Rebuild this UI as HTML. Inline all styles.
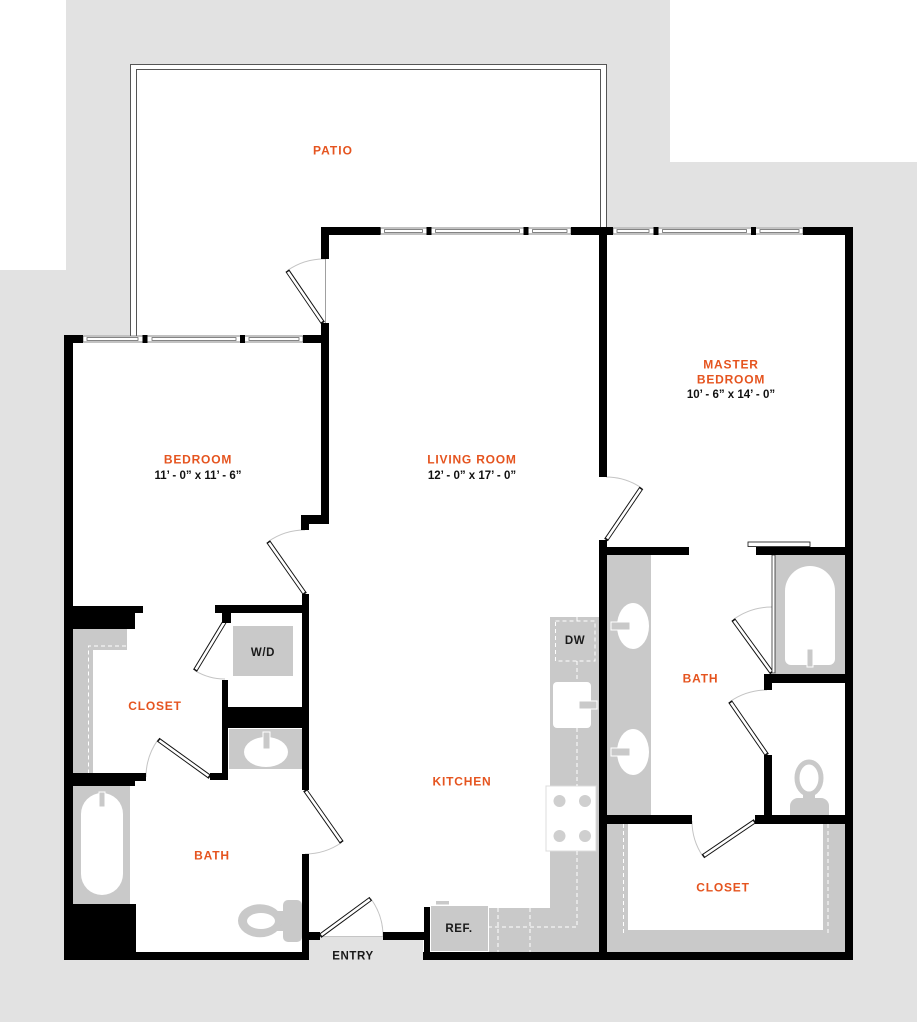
<!DOCTYPE html>
<html><head><meta charset="utf-8"><style>
html,body{margin:0;padding:0;background:#fff;}
svg{display:block;}
.lbl{font-family:"Liberation Sans",sans-serif;font-weight:bold;font-size:12px;fill:#e5541f;letter-spacing:0.8px;text-anchor:middle;}
.dim{font-family:"Liberation Sans",sans-serif;font-weight:bold;font-size:11.5px;fill:#111;text-anchor:middle;}
.blk{font-family:"Liberation Sans",sans-serif;font-weight:bold;font-size:11.5px;fill:#1a1a1a;text-anchor:middle;letter-spacing:0.6px;}
</style></head><body>
<svg width="918" height="1024" viewBox="0 0 918 1024" xmlns="http://www.w3.org/2000/svg">
<!-- background -->
<rect x="0" y="0" width="918" height="1024" fill="#fff"/>
<rect x="0" y="0" width="917" height="1022" fill="#e2e2e2"/>
<rect x="0" y="0" width="66" height="270" fill="#fff"/>
<rect x="670" y="0" width="248" height="162" fill="#fff"/>

<!-- interior white -->
<path d="M64,335 L321,335 L321,227 L853,227 L853,960 L423,960 L423,936 L308,936 L308,960 L64,960 Z" fill="#fff"/>
<!-- patio -->
<path d="M130,64 L606.5,64 L606.5,227 L321,227 L321,335 L130,335 Z" fill="#fff"/>
<g stroke="#555" stroke-width="1" fill="none">
<path d="M130.5,337 V64.5 H606.5 V228"/>
<path d="M136.5,337 V69.5 H600.5 V228"/>
</g>

<!-- fixtures gray -->
<g fill="#c9c9c9">
<rect x="72" y="629" width="55" height="21"/>
<rect x="72" y="629" width="21" height="144"/>
<rect x="232" y="626" width="61" height="50"/>
<rect x="229" y="729" width="74" height="40"/>
<rect x="72" y="786" width="58" height="118"/>
<rect x="283" y="900" width="19" height="42" rx="5"/>
<rect x="270" y="911" width="16" height="20"/>
<ellipse cx="260" cy="920.7" rx="22" ry="16.5"/>
<rect x="550" y="617" width="50" height="335"/>
<rect x="488" y="908" width="112" height="44"/>
<rect x="431" y="906" width="57" height="45"/>
<rect x="436" y="901" width="13" height="3.5"/>
<rect x="607" y="555" width="44" height="260"/>
<rect x="775" y="555" width="70" height="119"/>
<rect x="607" y="824" width="238" height="128"/>
</g>

<!-- white details on fixtures -->
<g fill="#fff">
<ellipse cx="261" cy="921" rx="14" ry="8"/>
<ellipse cx="266" cy="752" rx="22" ry="15"/>
<rect x="81" y="793" width="42" height="102" rx="21"/>
<rect x="553" y="682" width="38" height="46" rx="4"/>
<ellipse cx="633" cy="626" rx="16" ry="23"/>
<ellipse cx="633" cy="752" rx="16" ry="23"/>
<path d="M785,591 A25,25 0 0 1 835,591 V659 A6,6 0 0 1 829,665 H791 A6,6 0 0 1 785,659 Z"/>
<rect x="628" y="824" width="195" height="106"/>
</g>
<line x1="232.5" y1="626" x2="232.5" y2="676" stroke="#fff" stroke-width="1"/>
<line x1="488.5" y1="906" x2="488.5" y2="952" stroke="#fff" stroke-width="1"/>

<!-- faucets -->
<g fill="#c9c9c9" stroke="#fff" stroke-width="1">
<rect x="263" y="732" width="7" height="17"/>
<rect x="99" y="792" width="6" height="15"/>
<rect x="579" y="701" width="18" height="8"/>
<rect x="611" y="622" width="19" height="8"/>
<rect x="611" y="748" width="19" height="8"/>
<rect x="807" y="649" width="6" height="18"/>
</g>

<!-- master toilet -->
<ellipse cx="809" cy="778" rx="12" ry="16" fill="#fff" stroke="#c9c9c9" stroke-width="5"/>
<path d="M790,806 A8,8 0 0 1 798,798 H821 A8,8 0 0 1 829,806 V815 H790 Z" fill="#c9c9c9"/>
<rect x="803" y="792" width="12" height="8" fill="#c9c9c9"/>

<!-- range -->
<rect x="546" y="786" width="50" height="65" fill="#fff" stroke="#dcdcdc" stroke-width="1"/>
<g fill="#cfcfcf">
<circle cx="559.5" cy="801" r="6"/>
<circle cx="585" cy="801" r="6"/>
<circle cx="559.5" cy="836" r="6"/>
<circle cx="585" cy="836" r="6"/>
</g>

<!-- dashed lines -->
<g stroke="#fff" stroke-width="1" fill="none" stroke-dasharray="4,3">
<path d="M126,646 H88.5 V773"/>
<rect x="555.5" y="621" width="39.5" height="40"/>
<path d="M577,617 V621"/>
<path d="M577,661 V682"/>
<path d="M577,728 V786"/>
<path d="M577,851 V927 H488"/>
<path d="M498,908 V952"/>
<path d="M530,908 V952"/>
<path d="M623.5,824 V936"/>
<path d="M828,824 V936"/>
</g>

<!-- windows -->
<g fill="#fff" stroke="#666" stroke-width="0.8">
<rect x="83" y="336" width="220" height="6"/>
<rect x="380.5" y="228" width="190.5" height="6"/>
<rect x="613" y="228" width="190" height="6"/>
</g>
<g fill="none" stroke="#666" stroke-width="0.8">
<rect x="87" y="337.6" width="51" height="2.8"/>
<rect x="152" y="337.6" width="84" height="2.8"/>
<rect x="249" y="337.6" width="50" height="2.8"/>
<rect x="384.5" y="229.6" width="38" height="2.8"/>
<rect x="435.5" y="229.6" width="84" height="2.8"/>
<rect x="532.5" y="229.6" width="34.5" height="2.8"/>
<rect x="617" y="229.6" width="32" height="2.8"/>
<rect x="662.5" y="229.6" width="84" height="2.8"/>
<rect x="760" y="229.6" width="39" height="2.8"/>
</g>

<!-- door frame lines / thresholds -->
<g stroke="#888" stroke-width="0.8" fill="none">
<line x1="325.5" y1="259" x2="325.5" y2="323"/>
<line x1="320" y1="936.5" x2="383" y2="936.5" stroke="#bbb"/>
</g>

<!-- door arcs -->
<g stroke="#c4c4c4" stroke-width="1" fill="none">
<path d="M287.3,270.6 A64,64 0 0 1 325,259"/>
<path d="M268.2,541.6 A64,64 0 0 1 305,530"/>
<path d="M341.8,842.4 A64,64 0 0 1 305,854"/>
<path d="M370.8,898.7 A63,63 0 0 1 383,936"/>
<path d="M195,670.7 A58,58 0 0 0 225,679"/>
<path d="M158.1,739.6 A64,64 0 0 0 146,777"/>
<path d="M641.4,487.9 A63,63 0 0 0 606,477"/>
<path d="M733.2,619.6 A66,66 0 0 1 772,607"/>
<path d="M730.1,701.5 A65,65 0 0 1 767,690"/>
<path d="M702.9,856.4 A63,63 0 0 1 692,821"/>
</g>

<!-- door leaves -->
<g stroke="#111" stroke-width="4.5" stroke-linecap="butt">
<line x1="323" y1="323" x2="287.3" y2="270.6"/>
<line x1="305" y1="594" x2="268.2" y2="541.6"/>
<line x1="305" y1="790" x2="341.8" y2="842.4"/>
<line x1="320" y1="936" x2="370.8" y2="898.7"/>
<line x1="225" y1="621" x2="195" y2="670.7"/>
<line x1="210" y1="777" x2="158.1" y2="739.6"/>
<line x1="606" y1="540" x2="641.4" y2="487.9"/>
<line x1="772" y1="673" x2="733.2" y2="619.6"/>
<line x1="767" y1="755" x2="730.1" y2="701.5"/>
<line x1="755" y1="821" x2="702.9" y2="856.4"/>
</g>
<g stroke="#fff" stroke-width="2.6" stroke-linecap="butt">
<line x1="322" y1="321.6" x2="288" y2="271.8"/>
<line x1="304" y1="592.6" x2="269" y2="542.8"/>
<line x1="306" y1="791.4" x2="341" y2="841.2"/>
<line x1="321.3" y1="935" x2="369.8" y2="899.4"/>
<line x1="224.2" y1="622.4" x2="195.8" y2="669.4"/>
<line x1="208.6" y1="776" x2="159.3" y2="740.5"/>
<line x1="607" y1="538.6" x2="640.6" y2="489.1"/>
<line x1="771" y1="671.6" x2="734.1" y2="620.8"/>
<line x1="766" y1="753.6" x2="731" y2="702.8"/>
<line x1="753.7" y1="821.9" x2="704.1" y2="855.6"/>
</g>

<!-- sliding panel & shower glass -->
<rect x="748" y="542" width="62" height="4.5" fill="#fff" stroke="#111" stroke-width="0.8"/>
<rect x="772" y="555" width="3" height="118" fill="#fff" stroke="#111" stroke-width="0.7"/>

<!-- walls -->
<g fill="#000">
<rect x="321" y="227" width="59.5" height="8"/>
<rect x="426.5" y="227" width="5" height="8"/>
<rect x="523.5" y="227" width="5" height="8"/>
<rect x="571" y="227" width="42" height="8"/>
<rect x="653.5" y="227" width="5" height="8"/>
<rect x="751" y="227" width="5" height="8"/>
<rect x="803" y="227" width="50" height="8"/>
<rect x="845" y="227" width="8" height="733"/>
<rect x="599" y="227" width="8" height="250"/>
<rect x="599" y="540" width="8" height="420"/>
<rect x="321" y="227" width="8" height="32"/>
<rect x="321" y="323" width="8" height="201"/>
<rect x="301" y="515" width="28" height="9"/>
<rect x="301" y="515" width="8" height="15"/>
<rect x="64" y="335" width="19" height="8"/>
<rect x="142.5" y="335" width="5" height="8"/>
<rect x="240" y="335" width="5" height="8"/>
<rect x="303" y="335" width="26" height="8"/>
<rect x="64" y="335" width="9" height="625"/>
<rect x="302" y="594" width="7" height="196"/>
<rect x="302" y="854" width="7" height="106"/>
<rect x="64" y="952" width="245" height="8"/>
<rect x="302" y="932" width="18" height="8"/>
<rect x="383" y="932" width="42" height="8"/>
<rect x="424" y="907" width="6" height="53"/>
<rect x="423" y="952" width="430" height="8"/>
<rect x="215" y="605" width="94" height="8"/>
<rect x="222" y="605" width="9" height="18"/>
<rect x="222" y="680" width="6" height="100"/>
<rect x="210" y="773" width="18" height="7"/>
<rect x="227" y="707" width="82" height="21"/>
<rect x="64" y="606" width="79" height="7"/>
<rect x="64" y="606" width="71" height="23"/>
<rect x="64" y="773" width="82" height="8"/>
<rect x="64" y="773" width="71" height="13"/>
<rect x="64" y="904" width="72" height="56"/>
<rect x="599" y="547" width="90" height="8"/>
<rect x="756" y="547" width="97" height="8"/>
<rect x="764" y="674" width="89" height="9"/>
<rect x="764" y="674" width="8" height="16"/>
<rect x="764" y="755" width="8" height="60"/>
<rect x="599" y="815" width="93" height="9"/>
<rect x="755" y="815" width="98" height="9"/>
</g>

<!-- labels -->
<text class="lbl" x="333" y="154.5" style="letter-spacing:1px">PATIO</text>
<text class="lbl" x="198" y="463.5">BEDROOM</text>
<text class="dim" x="198" y="479">11’ - 0” x 11’ - 6”</text>
<text class="lbl" x="472" y="463.5">LIVING ROOM</text>
<text class="dim" x="472" y="479">12’ - 0” x 17’ - 0”</text>
<text class="lbl" x="731" y="368.5">MASTER</text>
<text class="lbl" x="731" y="383.5">BEDROOM</text>
<text class="dim" x="731" y="398">10’ - 6” x 14’ - 0”</text>
<text class="lbl" x="155" y="710">CLOSET</text>
<text class="lbl" x="212" y="859.5">BATH</text>
<text class="lbl" x="462" y="785.5">KITCHEN</text>
<text class="lbl" x="700.5" y="682.5">BATH</text>
<text class="lbl" x="723" y="891.5">CLOSET</text>
<text class="blk" x="263" y="656">W/D</text>
<text class="blk" x="575" y="644">DW</text>
<text class="blk" x="459" y="932">REF.</text>
<text class="blk" x="353" y="959.5">ENTRY</text>
</svg>
</body></html>
